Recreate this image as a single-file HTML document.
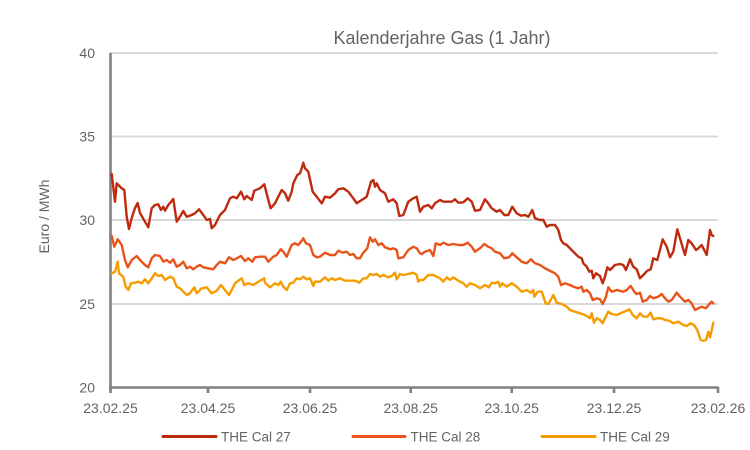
<!DOCTYPE html>
<html><head><meta charset="utf-8"><style>
html,body{margin:0;padding:0;background:#fff;}
svg{display:block;}
text{font-family:"Liberation Sans",sans-serif;fill:#636363;}
</style></head><body>
<svg width="750" height="450" viewBox="0 0 750 450" xmlns="http://www.w3.org/2000/svg">
<rect width="750" height="450" fill="#fff"/>
<text x="442" y="44" font-size="18" text-anchor="middle">Kalenderjahre Gas (1 Jahr)</text>
<g stroke="#d9d9d9" stroke-width="2">
<line x1="110" y1="53" x2="718" y2="53"/>
<line x1="110" y1="136.5" x2="718" y2="136.5"/>
<line x1="110" y1="220" x2="718" y2="220"/>
<line x1="110" y1="304" x2="718" y2="304"/>
</g>
<g font-size="14" text-anchor="end">
<text x="95" y="58">40</text>
<text x="95" y="141.5">35</text>
<text x="95" y="225">30</text>
<text x="95" y="309">25</text>
<text x="95" y="392.5">20</text>
</g>
<text transform="translate(49,216.5) rotate(-90)" font-size="14" text-anchor="middle">Euro / MWh</text>
<g stroke="#808080" stroke-width="2.6" fill="none">
<line x1="110.5" y1="53" x2="110.5" y2="393"/>
<line x1="109" y1="387.5" x2="718.5" y2="387.5"/>
<line x1="208" y1="387" x2="208" y2="393"/>
<line x1="310" y1="387" x2="310" y2="393"/>
<line x1="410.7" y1="387" x2="410.7" y2="393"/>
<line x1="511.7" y1="387" x2="511.7" y2="393"/>
<line x1="614" y1="387" x2="614" y2="393"/>
<line x1="718" y1="387" x2="718" y2="393"/>
</g>
<g font-size="14" text-anchor="middle">
<text x="110.5" y="413">23.02.25</text>
<text x="208" y="413">23.04.25</text>
<text x="310" y="413">23.06.25</text>
<text x="410.7" y="413">23.08.25</text>
<text x="511.7" y="413">23.10.25</text>
<text x="614" y="413">23.12.25</text>
<text x="718" y="413">23.02.26</text>
</g>
<g fill="none" stroke-width="2.4" stroke-linejoin="round" stroke-linecap="round">
<polyline stroke="#F59C00" points="111.7,273.3 115,271.7 117.7,261.7 119,273.3 123.3,276.7 125.7,286.7 128.3,290 131,283.3 135,282.7 138.3,281.7 141.7,283.3 145,279.3 148.3,283.3 151.7,278.3 155,273.3 158.3,276 161.7,275 165,280 170,276.7 173.3,278.3 176.7,286.7 180,288.3 183.3,291.7 186.7,295 190,293.3 194.3,287.3 196.7,293.3 201.7,288.3 206.7,287.3 211.7,293.3 216.7,290.7 221,285 225,290 229,295 231.7,290 235,283.3 238.3,280.7 241.7,278.3 244.3,285 248.3,283.3 253.3,285 258.3,281.7 264.3,278.3 265,282.7 270,287.3 275,283.3 278.3,285 280.7,281.7 283.3,286.7 286.7,290 290,283.3 293.3,282.7 296.7,278.3 300,279.3 303.3,276.7 306.7,279.3 310,278.3 313.3,286 315,281.7 320,281.7 325,277.3 328.3,280.7 331.7,278.3 335,280 340,278.3 345,280.7 350,280.7 355,280.7 359.3,282.7 363.3,278.3 366.7,278.3 370,274 373.3,275 376.7,274 380,276.7 383.3,275 388.3,277.3 391.7,276 395,272.7 396.7,279.3 400,274 403.3,275 408.3,274 413.3,272.7 416.7,275 418.3,281.7 420,280 423.3,280 428.3,275 433.3,275 436.7,276.7 440,278.3 443.3,281.7 446.7,277.3 450,280 453.3,277.3 458.3,280.7 463.3,283.3 466.7,286.7 470,283.3 475,285 480,288.3 485,285 489,287.3 491.7,282.7 495,283.3 498.3,281.7 500,286.7 502.3,283.3 506.7,286.7 511.7,283.3 516.7,286.7 521.7,291.7 526.7,290 531,292.7 533.3,290 534.3,296.7 537.7,291.7 541.7,291.7 545.7,303.3 548.3,304 551.7,298.3 553.3,295 556.7,302.7 561.7,304 566.7,306.7 570,310 575,311.7 580,313.3 585,315 590,318.3 591.7,313.3 594,322.7 596.7,318.3 600,320 602.7,323.3 605,318.3 608.3,311.7 611.7,314 616.7,315 621.7,312.7 626.7,310.7 629.3,309.3 632.7,315 636.7,318.3 640,313.3 643.3,316.7 647.3,316.7 650.7,312.7 653.3,319.3 656.7,318.3 661.7,318.3 665,320 669.3,320.7 673.3,323.3 678.3,321.7 683.3,325 686.7,326 690.7,323.3 694,325 697.3,330 700.7,340 703.3,340.7 706,340 708.3,331.7 710,337.3 711.7,330 713.3,322.7"/>
<polyline stroke="#E8541A" points="111.7,236 114.3,246.7 117.7,239.3 121.7,245 125,260 127.7,267.3 131.7,260 136.7,256 140,260 145,265 148.3,267.3 151.7,258.3 155,255 160,256 163.3,261.7 166.7,260 170,262.7 173.3,259.3 176.7,266.7 180,265 183.3,261.7 186.7,268.3 190,266.7 193.3,269.3 196.7,266.7 200,265 203.3,267.3 208.3,268.3 213.3,269.3 216.7,265 220,261.7 225,263.3 229,257.3 233.3,260 236.7,258.3 241,256 245,261 248.3,258.3 252.3,261.7 255,257.3 260,256.7 265,256.7 268.3,261.7 273.3,256.7 276.7,255 280.7,249.3 283.3,251.7 286.7,256.7 291.7,245 295,243.3 298.3,245 301.7,240.7 303.3,238.3 306,243.3 310,245 313.3,255 316.7,257.3 320,256.7 325,252.7 330,255 335,255 338.3,250.7 342.7,252.7 346.7,251.7 350,255 353.3,254 356.7,258.3 360,258.3 363.3,252.7 367.3,248.3 370,237.3 372.7,241.7 375,239.3 378.3,245 381.7,243.3 385,247.3 390,249.3 393.3,248.3 396.7,250 398.3,258.3 403.3,257.3 408.3,250 413.3,246.7 416.7,248.3 420,253.3 421.7,254 425,251.7 430,250 433.3,256 435.7,243.3 440,245 443.3,242.7 448.3,245 453.3,244 458.3,245 463.3,245 467.7,242.7 471.7,246.7 475,251.7 480,248.3 484.3,244 488.3,246.7 491.7,248.3 495,251.7 500,253.3 504.3,258.3 509,257.3 512.3,253.3 516.7,257.3 521.7,261.7 526.7,263.3 531,259.3 535,263.3 540,265 545,268.3 548.3,270 555,273.3 558.3,276.7 561,285 565,283.3 570,285 573.3,286.7 578.3,288.3 581.7,286.7 583.3,291.7 586.7,290 590,293.3 592.7,300 596.7,298.3 600,299.3 602.7,304 606,296.7 608.3,287.3 611.7,291.7 616.7,290 623.3,291.7 626.7,290 630.7,286 635,292.7 636.7,294 640,292.7 642.7,301.7 646.7,300 650,296 653.3,298.3 658.3,296.7 661.7,294 665,298.3 668.3,301.7 671.7,300 676.7,292.7 680,296.7 685,301.7 688.3,300 691.7,303.3 695,310 698.3,308.3 701.7,306.7 706,308.3 709.3,304 711.7,301.7 713.3,303.3"/>
<polyline stroke="#BE2A0E" points="111.7,174 115,201.7 116.7,183.3 121.7,188.3 124.3,190 126.7,216.7 129,229 131.7,218 135,208 137.7,203 140,213 145,221.7 148.3,227.3 151.7,208.3 155,205 158.3,204.3 161,210 163.3,206.7 165,210.7 168.3,205 173.3,199 176.7,221.7 180,216.7 183.3,211 186.7,216.7 191.7,215 195,213.3 199,209.3 203.3,215 206.7,220 210,219 211.7,228.3 215,225 220,215 225,210 230,198.3 233.3,196.7 236.7,198.3 241,191.7 244.3,199.3 246.7,196 251.7,200 254.3,190.7 260,188.3 264.3,184.3 268.3,200 270.7,208.3 275,203.3 278.3,196.7 281.7,190 285,193.3 288.3,200.7 291.7,191.7 293.3,183.3 297.3,175 300,173.3 301.7,168.3 303.3,162.7 305,168.3 308.3,171.7 312.7,191.7 316.7,196.7 321.7,203.3 325,196.7 330,197.7 335,193.3 338.3,189.3 343.3,188.3 348.3,191.7 353.3,198.3 356.7,203.3 361.7,200 366.7,196.7 371,181.7 373.3,180 375,186.7 376.7,183.3 380,190 385,193.3 388.3,201.7 393.3,199.3 396.7,203.3 399.3,216 403.3,215 408.3,201.7 413.3,198.3 416.7,196.7 420,211.7 423.3,206.7 428.3,205 431.7,208.3 435,203.3 440,200 443.3,201.7 446.7,201.7 451.7,201.7 455,199.3 458.3,202.7 463.3,202.3 467.7,198.3 471.7,201.7 475,210.7 480,210 485,199.3 488.3,203.3 491.7,208.3 496.7,211.7 500,210 504.3,215 508.3,215 512.3,206.7 516.7,213.3 521,215.7 525,215 528.3,216.7 532.3,210 535,218.3 540,220 543.3,220 546.7,226.7 550,225 555,225 558.3,230 561,240 563.3,243.3 566.7,245 570,248.3 573.3,251.7 578.3,256.7 581.7,258.3 583.3,263.3 586.7,266.7 589.3,271.7 591.7,270.7 593.3,278.3 596,273.3 600,276 602.7,283.3 605,276.7 607.3,267.3 610,270 615,265 620,264 623.3,265 626,270 630,259.3 633.3,266.7 636.7,269.3 640,278.3 643.3,275 647.3,270.7 650.7,269.3 653.3,258.3 657.3,260 662.7,239.3 666.7,246.7 670,257.3 673.3,251.7 677.3,229.3 680,238.3 685,255 688.3,240 691.7,243.3 696,250 698.3,248.3 701.7,245 706.7,255 710,230 711.7,235 713.3,236"/>
</g>
<g stroke-width="3" stroke-linecap="round">
<line x1="163" y1="436.5" x2="216" y2="436.5" stroke="#BE2A0E"/>
<line x1="353" y1="436.5" x2="405" y2="436.5" stroke="#E8541A"/>
<line x1="542" y1="436.5" x2="595" y2="436.5" stroke="#F59C00"/>
</g>
<g font-size="13.5">
<text x="221" y="441.5">THE Cal 27</text>
<text x="410.5" y="441.5">THE Cal 28</text>
<text x="600" y="441.5">THE Cal 29</text>
</g>
</svg>
</body></html>
